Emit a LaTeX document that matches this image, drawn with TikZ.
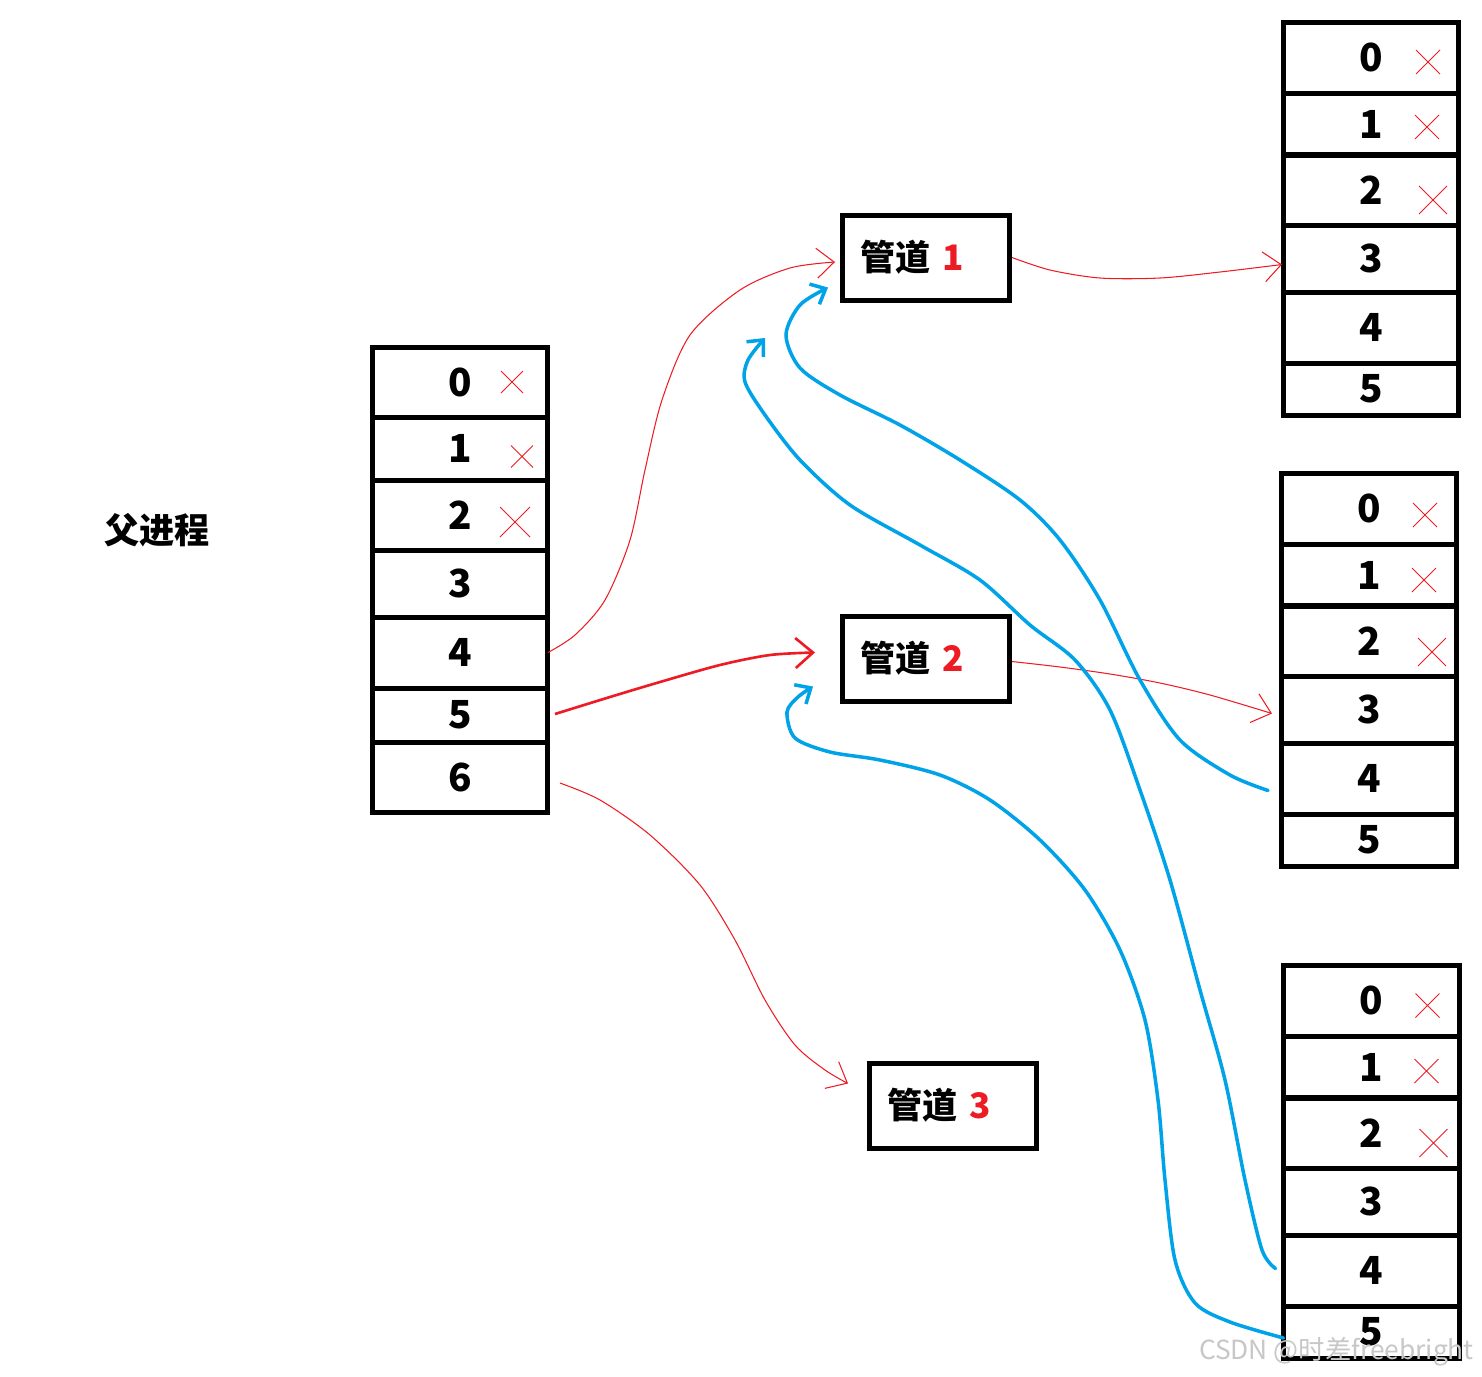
\documentclass[tikz,border=0pt]{standalone}
\usepackage{fontspec}
\setmainfont{Noto Sans CJK SC}
\usepackage{xcolor}
\usetikzlibrary{arrows.meta}
\definecolor{pred}{RGB}{237,28,36}
\definecolor{pblue}{RGB}{0,162,232}

\begin{document}
\begin{tikzpicture}[x=0.02cm,y=-0.02cm,
		cell/.style={draw,line width=0.1cm,minimum width=3.52cm,inner sep=0pt,outer sep=0pt,font=\fontsize{22}{22}\selectfont\bfseries},
		pipe/.style={draw,line width=0.1cm,minimum height=1.7cm,inner xsep=0.36cm,outer sep=0pt,text width=2.64cm,align=left,font=\fontsize{20}{22}\selectfont\bfseries},
		xmark/.style={draw=pred,line width=0.5pt},
		redline/.style={draw=pred,line width=0.6pt,-{Straight Barb[length=0.35cm,width=0.6cm]}},
		blueline/.style={draw=pblue,line width=2pt,line cap=round,-{Straight Barb[length=0.25cm,width=0.45cm]}}]
			\useasboundingbox (0,0) rectangle (1482,1377);
			% parent
			\node[font=\fontsize{20}{22}\selectfont\bfseries] (parent) at (157,530) {父进程};
			\foreach \n/\y/\h in {0/382/70,1/448.5/63,2/515/70,3/583.5/67,4/652.5/71,5/715/54,6/777/70}
				\node[cell,minimum height=\h*0.02cm] (p\n) at (460,\y) {\n};
			% children
			\foreach \t/\xc/\top in {a/1371/22,b/1369/473,c/1371.5/965}
				\foreach \n/\dy/\h in {0/35.5/71,1/102/62,2/168/71,3/236.5/67,4/305.5/71,5/367/52}
					\node[cell,minimum height=\h*0.02cm] (\t\n) at (\xc,\top+\dy) {\n};
			% pipes
			\node[pipe] (g1) at (926,257.5) {管道 {\color{pred}1}};
			\node[pipe] (g2) at (926,658.5) {管道 {\color{pred}2}};
			\node[pipe] (g3) at (953,1105.5) {管道 {\color{pred}3}};
			% closed ends
			\foreach \r/\dx/\dy/\s in {p0/52/0/11,p1/62/8/11,p2/55/7/15,a0/57/4.5/12,a1/56/3/12,a2/62/10/14,b0/56/6.5/12,b1/55/5/12,b2/63/11/14,c0/56/5/12,c1/55/4/12,c2/62/10/14}
				\draw[xmark] ([shift={(\dx-\s,\dy-\s)}]\r.center) -- ([shift={(\dx+\s,\dy+\s)}]\r.center)
					([shift={(\dx+\s,\dy-\s)}]\r.center) -- ([shift={(\dx-\s,\dy+\s)}]\r.center);
			% parent writes
			\draw[redline] plot[smooth] coordinates {(p4.east) (575,635) (605,600) (630,540) (645,470) (662,400) (690,335) (740,290) (790,268) ([shift={(-7,4.5)}]g1.west)};
			\draw[redline,line width=1.5pt] plot[smooth] coordinates {([shift={(7,-1)}]p5.east) (610,697) (660,682) (720,665) (770,655) ([shift={(-27,-6)}]g2.west)};
			\draw[redline] plot[smooth] coordinates {([shift={(12,6)}]p6.east) (600,800) (650,835) (700,885) (735,940) (765,1000) (795,1045) (825,1070) ([shift={(-21,-22)}]g3.west)};
			\draw[redline] plot[smooth] coordinates {([shift={(2,0)}]g1.east) (1050,270) (1100,278) (1160,278) (1220,272) ([shift={(-1,6)}]a3.west)};
			\draw[redline] plot[smooth] coordinates {([shift={(2,3)}]g2.east) (1060,667) (1110,674) (1160,683) (1210,695) ([shift={(-9,4)}]b3.west)};
			% children read
			\draw[blueline] plot[smooth] coordinates {([shift={(-13,12)}]b4.west) (1230,775) (1180,740) (1140,680) (1100,600) (1060,540) (1020,500) (960,460) (900,425) (840,395) (800,368) (786,335) (800,305) ([shift={(-14,30)}]g1.west)};
			\draw[blueline] plot[smooth] coordinates {([shift={(-8,-2)}]c4.west) (1262,1250) (1245,1180) (1225,1080) (1200,990) (1170,880) (1140,790) (1110,710) (1075,660) (1030,625) (980,580) (920,545) (850,505) (800,460) (765,415) (745,382) (748,360) ([shift={(-77,38)}]g1.south west)};
			\draw[blueline] plot[smooth] coordinates {([shift={(0,6)}]c5.west) (1230,1322) (1195,1303) (1175,1260) (1165,1180) (1158,1100) (1145,1020) (1120,950) (1085,890) (1040,840) (990,800) (940,775) (880,760) (830,752) (795,738) (787,712) (798,697) ([shift={(-29,28)}]g2.west)};
			% watermark
			\node[text=black!22,font=\fontsize{15}{15}\selectfont,anchor=east] (wm) at (1480,1352) {CSDN @时差freebright};
		\end{tikzpicture}
\end{document}
